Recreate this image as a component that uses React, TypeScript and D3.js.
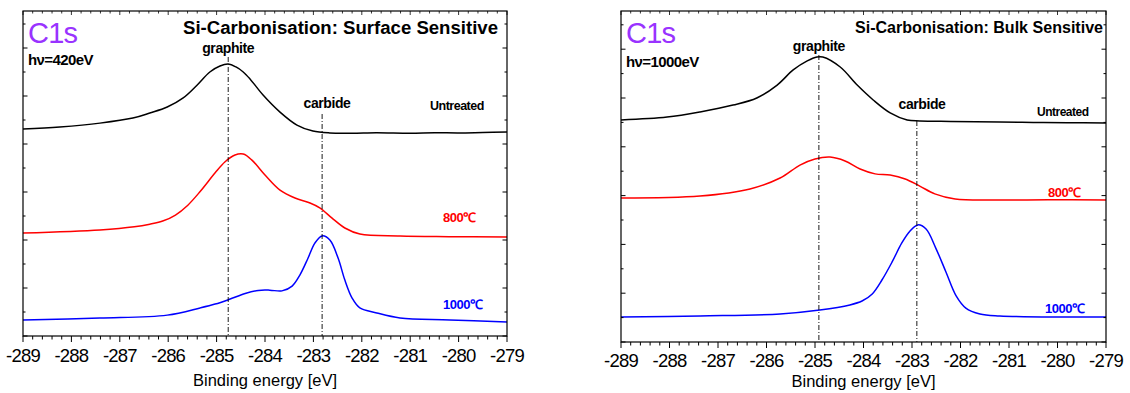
import React from "react";
import * as d3 from "d3";

type Pt = [number, number];

// Binding energy axis
const energyTicks = [-289, -288, -287, -286, -285, -284, -283, -282, -281, -280, -279];

// Surface sensitive (hν = 420 eV) spectra: [binding energy, offset intensity]
const surfaceUntreated: Pt[] = [
  [-289, 8.62], [-288.24, 8.71], [-287.41, 8.87], [-286.73, 9.08], [-286.38, 9.29],
  [-286.02, 9.54], [-285.69, 9.92], [-285.4, 10.46], [-285.14, 11.0], [-284.93, 11.25],
  [-284.76, 11.33], [-284.6, 11.21], [-284.45, 11.0], [-284.31, 10.71], [-284.04, 10.04],
  [-283.69, 9.33], [-283.34, 8.79], [-283.01, 8.54], [-282.66, 8.46], [-282.2, 8.45],
  [-281.7, 8.47], [-281.0, 8.45], [-280.5, 8.47], [-280.0, 8.46], [-279.5, 8.48], [-279, 8.5],
];
const surface800: Pt[] = [
  [-289, 4.29], [-287.41, 4.42], [-286.7, 4.55], [-286.38, 4.66], [-286.1, 4.8],
  [-285.85, 5.04], [-285.6, 5.44], [-285.34, 6.02], [-285.03, 6.8], [-284.83, 7.25],
  [-284.62, 7.54], [-284.45, 7.58], [-284.27, 7.33], [-284.0, 6.71], [-283.69, 6.08],
  [-283.38, 5.75], [-283.07, 5.54], [-282.86, 5.33], [-282.62, 4.92], [-282.35, 4.5],
  [-282.04, 4.25], [-281.21, 4.17], [-280.2, 4.14], [-279, 4.12],
];
const surface1000: Pt[] = [
  [-289, 0.67], [-287.41, 0.75], [-286.02, 0.87], [-285.34, 1.17], [-285.03, 1.33],
  [-284.72, 1.54], [-284.41, 1.77], [-284.14, 1.9], [-283.9, 1.91], [-283.65, 1.88],
  [-283.44, 2.08], [-283.28, 2.54], [-283.11, 3.25], [-282.97, 3.87], [-282.82, 4.17],
  [-282.66, 4.0], [-282.49, 3.25], [-282.35, 2.33], [-282.2, 1.58], [-282.04, 1.17],
  [-281.69, 0.96], [-281.21, 0.75], [-280.18, 0.67], [-279, 0.58],
];

// Bulk sensitive (hν = 1000 eV) spectra
const bulkUntreated: Pt[] = [
  [-289, 9.1], [-288.05, 9.22], [-287.37, 9.43], [-286.69, 9.71], [-286.2, 10.0],
  [-285.78, 10.53], [-285.45, 11.15], [-285.16, 11.52], [-284.96, 11.68], [-284.84, 11.68],
  [-284.48, 11.27], [-284.13, 10.53], [-283.8, 9.92], [-283.45, 9.39], [-283.1, 9.1],
  [-282.84, 9.06], [-282.2, 9.04], [-281.19, 9.02], [-280.5, 9.0], [-279.8, 8.99], [-279, 8.98],
];
const bulk800: Pt[] = [
  [-289, 5.9], [-287.37, 5.98], [-286.34, 6.27], [-285.72, 6.72], [-285.31, 7.25],
  [-285.0, 7.5], [-284.69, 7.58], [-284.38, 7.42], [-284.07, 7.09], [-283.76, 6.89],
  [-283.45, 6.84], [-283.14, 6.68], [-282.84, 6.39], [-282.53, 6.07], [-282.11, 5.86],
  [-281.19, 5.82], [-280.2, 5.83], [-279, 5.82],
];
const bulk1000: Pt[] = [
  [-289, 1.02], [-287.37, 1.07], [-285.72, 1.15], [-284.9, 1.31], [-284.28, 1.52],
  [-284.03, 1.68], [-283.82, 1.97], [-283.62, 2.54], [-283.41, 3.28], [-283.21, 4.06],
  [-283.04, 4.55], [-282.88, 4.8], [-282.71, 4.63], [-282.51, 3.85], [-282.3, 2.87],
  [-282.09, 1.89], [-281.89, 1.39], [-281.6, 1.15], [-281.19, 1.07], [-279, 1.02],
];

const seriesNames = ["Untreated", "800℃", "1000℃"];
const seriesColors = ["#000000", "#ff0000", "#0000ff"];

const FONT = "'Liberation Sans', Arial, Helvetica, sans-serif";

type Label = { text: string; x: number; y: number; size: number };

type PanelSpec = {
  x0: number;
  x1: number;
  top: number;
  bottom: number;
  yMax: number;
  series: Pt[][];
  graphite: number;
  carbide: number;
  graphiteTop: number;
  carbideTop: number;
  energyLabel: string;
  energyLabelY: number;
  title: string;
  titleX: number;
  titleY: number;
  titleSize: number;
  titleLen: number;
  graphiteLabelY: number;
  carbideLabelX: number;
  carbideLabelY: number;
  tickLabelY: number;
  axisTitleY: number;
  seriesLabels: Label[];
};

const panels: PanelSpec[] = [
  {
    x0: 23, x1: 507, top: 11, bottom: 336, yMax: 325 / 24,
    series: [surfaceUntreated, surface800, surface1000],
    graphite: -284.76, carbide: -282.82, graphiteTop: 57, carbideTop: 114,
    energyLabel: "hν=420eV", energyLabelY: 65,
    title: "Si-Carbonisation: Surface Sensitive", titleX: 183, titleY: 34, titleSize: 18, titleLen: 315,
    graphiteLabelY: 53, carbideLabelX: 327, carbideLabelY: 108,
    tickLabelY: 362, axisTitleY: 386,
    seriesLabels: [
      { text: seriesNames[0], x: 430, y: 110, size: 12.5 },
      { text: seriesNames[1], x: 443, y: 222, size: 13 },
      { text: seriesNames[2], x: 443, y: 309, size: 13 },
    ],
  },
  {
    x0: 621, x1: 1106, top: 11, bottom: 342, yMax: 331 / 24.4,
    series: [bulkUntreated, bulk800, bulk1000],
    graphite: -284.92, carbide: -282.9, graphiteTop: 55, carbideTop: 121,
    energyLabel: "hν=1000eV", energyLabelY: 67,
    title: "Si-Carbonisation: Bulk Sensitive", titleX: 855, titleY: 33, titleSize: 16, titleLen: 248,
    graphiteLabelY: 51, carbideLabelX: 922, carbideLabelY: 109,
    tickLabelY: 367, axisTitleY: 387,
    seriesLabels: [
      { text: seriesNames[0], x: 1037, y: 116, size: 12 },
      { text: seriesNames[1], x: 1048, y: 197, size: 13 },
      { text: seriesNames[2], x: 1045, y: 313, size: 13 },
    ],
  },
];

function Panel({ p }: { p: PanelSpec }) {
  const x = d3.scaleLinear().domain([-289, -279]).range([p.x0, p.x1]);
  const y = d3.scaleLinear().domain([0, p.yMax]).range([p.bottom, p.top]);
  const line = d3
    .line<Pt>()
    .x((d) => x(d[0]))
    .y((d) => y(d[1]))
    .curve(d3.curveCatmullRom.alpha(0.5));

  const minorX = d3.range(-289, -278.99, 0.2).map((v) => Math.round(v * 10) / 10);
  const yTicks = d3.range(0, Math.floor(p.yMax) + 1);

  return (
    <g>
      {/* spectra */}
      {p.series.map((s, i) => (
        <path key={i} d={line(s) ?? ""} fill="none" stroke={seriesColors[i]} strokeWidth={1.5} />
      ))}

      {/* reference lines */}
      {[
        [p.graphite, p.graphiteTop],
        [p.carbide, p.carbideTop],
      ].map(([e, t], i) => (
        <line
          key={i}
          x1={x(e)}
          x2={x(e)}
          y1={t}
          y2={p.bottom}
          stroke="#000"
          strokeWidth={0.9}
          strokeDasharray="5,2,1,2"
        />
      ))}

      {/* frame */}
      <rect x={p.x0} y={p.top} width={p.x1 - p.x0} height={p.bottom - p.top} fill="none" stroke="#000" strokeWidth={1.2} />

      {/* bottom ticks (outward) and top ticks (inward) */}
      {minorX.map((v, i) => {
        const major = Math.abs(v - Math.round(v)) < 1e-6;
        const xx = x(v);
        return (
          <g key={i}>
            <line x1={xx} x2={xx} y1={p.bottom} y2={p.bottom + (major ? 6 : 3.5)} stroke="#000" strokeWidth={1} />
            <line x1={xx} x2={xx} y1={p.top} y2={p.top + (major ? 4 : 2.5)} stroke="#000" strokeWidth={0.8} />
          </g>
        );
      })}

      {/* y ticks, inward on both sides */}
      {yTicks.map((v) => {
        const yy = y(v);
        const major = v % 2 === 0;
        const len = major ? 4.5 : 2.5;
        return (
          <g key={v}>
            <line x1={p.x0} x2={p.x0 + len} y1={yy} y2={yy} stroke="#000" strokeWidth={1} />
            <line x1={p.x1} x2={p.x1 - len} y1={yy} y2={yy} stroke="#000" strokeWidth={1} />
          </g>
        );
      })}

      {/* tick labels */}
      {energyTicks.map((v) => (
        <text
          key={v}
          x={x(v)}
          y={p.tickLabelY}
          textAnchor="middle"
          fontSize={18.5}
          fontFamily={FONT}
          letterSpacing={-0.8}
          fill="#000"
        >
          {v}
        </text>
      ))}
      <text x={(p.x0 + p.x1) / 2} y={p.axisTitleY} textAnchor="middle" fontSize={16.5} fontFamily={FONT} fill="#000">
        Binding energy [eV]
      </text>

      {/* annotations */}
      <text x={p.x0 + 5} y={43} fontSize={29} fontFamily={FONT} fill="#9933ff" letterSpacing={-0.8}>
        C1s
      </text>
      <text x={p.x0 + 5} y={p.energyLabelY} fontSize={15} fontWeight="bold" fontFamily={FONT} letterSpacing={-0.6} fill="#000">
        {p.energyLabel}
      </text>
      <text
        x={p.titleX}
        y={p.titleY}
        fontSize={p.titleSize}
        fontWeight="bold"
        fontFamily={FONT}
        textLength={p.titleLen}
        lengthAdjust="spacingAndGlyphs"
        fill="#000"
      >
        {p.title}
      </text>
      <text x={x(p.graphite)} y={p.graphiteLabelY} textAnchor="middle" fontSize={14} fontWeight="bold" fontFamily={FONT} letterSpacing={-0.4}>
        graphite
      </text>
      <text x={p.carbideLabelX} y={p.carbideLabelY} textAnchor="middle" fontSize={14} fontWeight="bold" fontFamily={FONT} letterSpacing={-0.4}>
        carbide
      </text>
      {p.seriesLabels.map((l, i) => (
        <text
          key={i}
          x={l.x}
          y={l.y}
          fontSize={l.size}
          fontWeight="bold"
          fontFamily={FONT}
          letterSpacing={-0.5}
          fill={seriesColors[i]}
        >
          {l.text}
        </text>
      ))}
    </g>
  );
}

export default function App() {
  return (
    <svg
      width={1130}
      height={393}
      viewBox="0 0 1130 393"
      style={{ position: "absolute", left: 0, top: 0, background: "#fff" }}
    >
      <rect x={0} y={0} width={1130} height={393} fill="#fff" />
      {panels.map((p, i) => (
        <Panel key={i} p={p} />
      ))}
    </svg>
  );
}
